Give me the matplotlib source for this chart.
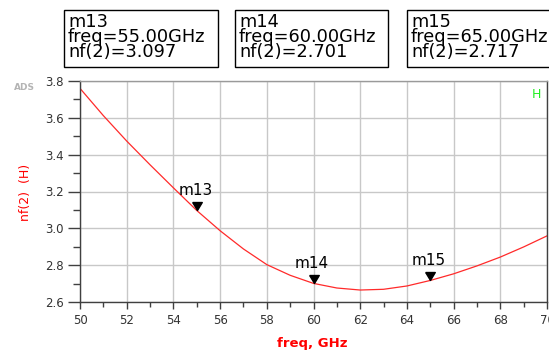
import matplotlib
matplotlib.use("Agg")
import matplotlib.pyplot as plt
from matplotlib.patches import Rectangle
from matplotlib.path import Path
from matplotlib.ticker import MultipleLocator

# data
freq = [50, 51, 52, 53, 54, 55, 56, 57, 58, 59, 60,
        61, 62, 63, 64, 65, 66, 67, 68, 69, 70]
nf2 = [3.760, 3.612, 3.474, 3.345, 3.220, 3.097, 2.987, 2.888, 2.803, 2.745, 2.701,
       2.676, 2.665, 2.669, 2.687, 2.717, 2.753, 2.796, 2.844, 2.899, 2.959]

marker_names = ["m13", "m14", "m15"]
marker_freq = [55.0, 60.0, 65.0]
marker_nf = [3.097, 2.701, 2.717]

W, H = 549, 352
fig = plt.figure(figsize=(W / 100, H / 100), dpi=100)
ax = fig.add_axes([80 / W, 50 / H, 467 / W, 221 / H])


def fx(x):
    return x / W


def fy(y):
    return 1 - y / H


ax.plot(freq, nf2, color="#ff2a2a", lw=0.9)

# downward triangle with the tip on the data point
tri = Path([(-0.6, 1.0), (0.6, 1.0), (0.0, 0.0), (-0.6, 1.0)])
ax.plot(marker_freq, marker_nf, ls="none", marker=tri, markersize=11.5,
        color="black", clip_on=False)
for name, f, v in zip(marker_names, marker_freq, marker_nf):
    ax.annotate(name, (f, v), xytext=(-1, 9), textcoords="offset points",
                ha="center", va="bottom", fontsize=11, color="black")

ax.set_xlim(50, 70)
ax.set_ylim(2.6, 3.8)
ax.xaxis.set_major_locator(MultipleLocator(2))
ax.xaxis.set_minor_locator(MultipleLocator(1))
ax.yaxis.set_major_locator(MultipleLocator(0.2))
ax.yaxis.set_minor_locator(MultipleLocator(0.1))
ax.yaxis.set_major_formatter(matplotlib.ticker.FormatStrFormatter("%.1f"))
ax.grid(True, which="major", color="#c8c8c8", lw=1)
ax.set_axisbelow(True)

ax.tick_params(axis="x", which="major", length=5, width=1, color="#404040",
               labelsize=8.5, labelcolor="#333333", pad=4)
ax.tick_params(axis="x", which="minor", length=3.5, width=1, color="#404040")
ax.tick_params(axis="y", which="major", length=8.5, width=1, color="#404040",
               labelsize=8.5, labelcolor="#333333", pad=3)
ax.tick_params(axis="y", which="minor", length=5, width=1, color="#404040")
for s in ax.spines.values():
    s.set_color("#404040")
    s.set_linewidth(1)
ax.spines["top"].set_color("#9a9a9a")

fig.text(fx(312), fy(343), "freq, GHz", color="red", fontsize=9.5,
         fontweight="bold", ha="center", va="center")
fig.text(fx(25), fy(192), "nf(2)  (H)", color="red", fontsize=9,
         rotation=90, ha="center", va="center")
fig.text(fx(24), fy(88), "ADS", color="#b4b4b4", fontsize=6.5,
         fontweight="bold", ha="center", va="center")
fig.text(fx(536), fy(94), "H", color="#22ee22", fontsize=9,
         ha="center", va="center")

# marker readout boxes
box_left = [64, 235, 407]
box_right = [218, 388, 570]
for name, f, v, x0, x1 in zip(marker_names, marker_freq, marker_nf, box_left, box_right):
    fig.patches.append(Rectangle((fx(x0), fy(67)), fx(x1 - x0), (67 - 10) / H,
                                 transform=fig.transFigure, fill=False,
                                 edgecolor="black", lw=1))
    txt = "\n".join([name, "freq=%.2fGHz" % f, "nf(2)=%.3f" % v])
    fig.text(fx(x0 + 4), fy(13), txt, fontsize=12.8, color="black",
             ha="left", va="top", linespacing=0.78)

fig.savefig("out.png", dpi=100)
